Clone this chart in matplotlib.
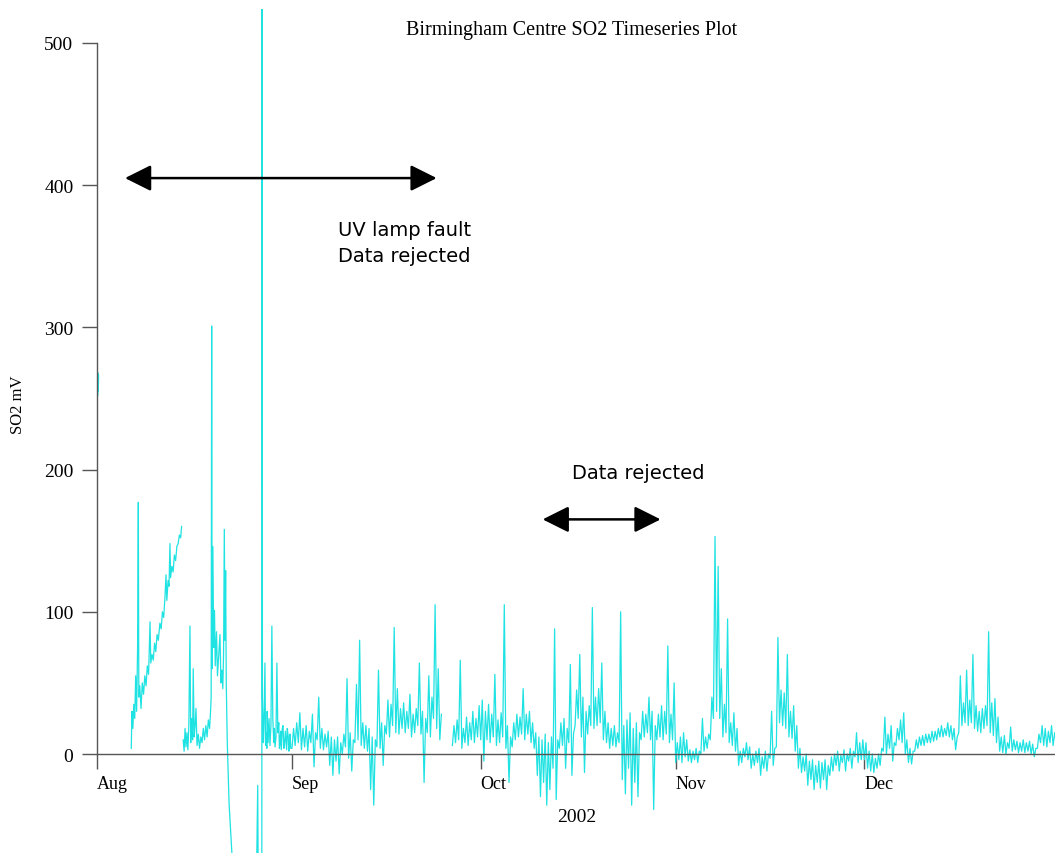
import numpy as np
import pandas as pd
import matplotlib
matplotlib.use("Agg")
import matplotlib.pyplot as plt
import matplotlib.dates as mdates

START = pd.Timestamp("2002-08-01")

# August: irregular (lamp fault, gaps), so day offsets are kept with the values
aug_days = [0.0, 0.05, 0.1, 0.15, 0.2, 0.25, 0.3,
            5.45, 5.55, 5.7, 5.85, 6.0, 6.15, 6.3, 6.45, 6.57, 6.65, 6.8, 7.0, 7.2, 7.4,
            7.6, 7.8, 8.0, 8.2, 8.43, 8.55, 8.75, 8.95, 9.15, 9.35, 9.55, 9.75, 10.0,
            10.2, 10.4, 10.6, 10.8, 10.97, 11.1, 11.3, 11.45, 11.6, 11.7, 11.9, 12.1,
            12.3, 12.5, 12.7, 12.9, 13.1, 13.3, 13.45, 13.55,
            13.7, 13.85, 14.0, 14.15, 14.3, 14.45, 14.6, 14.78, 14.9, 15.05, 15.2, 15.3,
            15.45, 15.6, 15.74, 15.9, 16.1, 16.3, 16.5, 16.7, 16.9, 17.1, 17.3, 17.5,
            17.7, 17.9, 18.05, 18.15, 18.23, 18.3, 18.42, 18.55, 18.68, 18.8, 19.0,
            19.15, 19.35, 19.55, 19.7, 19.85, 20.0, 20.12, 20.24, 20.35, 20.45, 20.55,
            20.7, 21.0, 21.45, 21.9, 22.5, 23.5, 24.5, 25.2, 25.55, 25.7, 26.2, 26.25,
            26.3, 26.45, 26.55, 26.7, 26.8, 26.87, 27.0, 27.05, 27.2, 27.35, 27.5, 27.65,
            27.8, 27.95, 28.1, 28.2, 28.3, 28.45, 28.6, 28.75, 28.9, 29.0, 29.1, 29.2,
            29.3, 29.45, 29.57, 29.7, 29.8, 29.95, 30.05, 30.15, 30.25, 30.4, 30.5,
            30.6, 30.7, 30.8]
aug_so2 = [248, 270, 252, 268, 255, 266, np.nan,
           4, 30, 18, 35, 25, 55, 30, 74, 177, 40, 48, 32, 50, 42,
           55, 48, 62, 56, 93, 64, 70, 66, 78, 72, 84, 80, 92,
           88, 100, 96, 110, 126, 108, 122, 118, 148, 124, 132, 128,
           140, 136, 146, 148, 154, 152, 160, np.nan,
           10, 2, 18, 5, 15, 3, 20, 90, 8, 25, 10, 60,
           12, 20, 32, 6, 14, 4, 12, 8, 18, 10, 20, 12,
           24, 18, 30, 40, 301, 60, 146, 75, 101, 62, 86,
           55, 70, 84, 50, 59, 46, 70, 158, 80, 129, 50,
           10, -35, -70, -120, -150, -160, -150, -140, -22, -150, -150, 700,
           40, 8, 22, 64, 6, 15, 4, 30, 8, 25, 6, 20,
           90, 25, 8, 18, 5, 12, 64, 15, 22, 4, 8, 16,
           3, 18, 20, 4, 6, 16, 10, 3, 18, 12, 2,
           6, 14, 4]

# Sep-Dec: band low / high read at half-day steps from the first of each month
sep_lo = [4, 6, 8, 3, 5, 2, 8, -9, 10, 4,
          3, 5, -8, -15, -5, -14, 0, 5, -3, -12,
          8, 10, 6, 4, 2, -25, -36, 5, 4, -8,
          14, 12, 20, 15, 14, 18, 15, 18, 12, 15,
          20, 14, -20, 15, 12, 25, 18, 10, np.nan, np.nan,
          np.nan, 6, 8, 10, 4, 8, 6, 10, 8, 12]
sep_hi = [18, 22, 29, 18, 20, 16, 28, 15, 40, 18,
          14, 16, 12, 10, 12, 8, 14, 53, 15, 10,
          49, 80, 22, 20, 18, 12, 10, 59, 22, 20,
          38, 35, 89, 46, 32, 36, 30, 42, 28, 32,
          64, 30, 25, 55, 40, 105, 60, 28, np.nan, np.nan,
          np.nan, 20, 24, 66, 18, 26, 22, 30, 25, 34]
oct_lo = [10, -5, 10, 8, 12, 6, 8, 12, 4, -20,
          5, 10, 12, 14, 10, 14, 8, 4, -15, -30,
          -20, -36, -25, -10, -32, 4, 6, -10, 8, -15,
          20, 25, 12, -13, 14, 20, 18, 20, 22, 10,
          8, 4, 6, 5, 8, -18, -28, -10, -36, -20,
          -30, 10, 12, 15, 10, -39, 10, 12, 10, 14,
          8, 10]
oct_hi = [38, 30, 35, 28, 56, 24, 29, 105, 20, 12,
          22, 28, 26, 46, 28, 30, 22, 15, 12, 10,
          14, 8, 12, 88, 10, 22, 25, 18, 63, 14,
          45, 70, 40, 30, 34, 103, 40, 46, 64, 30,
          22, 18, 20, 15, 100, 20, 24, 29, 18, 22,
          15, 30, 28, 40, 30, 20, 28, 34, 30, 76,
          28, 50]
nov_lo = [-6, -4, -6, -2, -5, -6, -4, -6, 0, 2,
          4, 10, 25, 30, 25, 12, 15, 8, 6, 2,
          -8, -6, -2, -4, -10, -8, -6, -15, -10, -12,
          -3, -8, 5, 22, 20, 18, 12, 11, 2, -10,
          -13, -12, -22, -18, -25, -20, -24, -18, -25, -15,
          -12, -8, -12, -6, -12, -5, -10, -2, -6, -4]
nov_hi = [8, 12, 15, 10, 3, 2, 4, 2, 25, 12,
          14, 40, 153, 132, 60, 35, 95, 22, 29, 18,
          2, 4, 8, 5, 0, 2, 4, -2, 2, 0,
          30, 4, 82, 45, 43, 70, 30, 34, 20, 4,
          -2, 0, -5, -4, -8, -5, -6, -4, -8, -2,
          0, 2, -1, 3, 0, 4, 2, 15, 8, 10]
dec_lo = [-4, -10, -12, -13, -10, -8, 2, 0, 4, -5,
          6, 10, 8, 0, -6, -7, 2, 4, 6, 6,
          8, 8, 9, 10, 12, 12, 13, 12, 10, 3,
          15, 20, 22, 20, 22, 18, 16, 15, 18, 20,
          15, 13, 8, 2, 1, 0, 4, 2, 3, 1,
          2, 1, 2, 0, -2, 4, 8, 6, 5, 8,
          6, 8]
dec_hi = [8, 2, 0, -3, 0, 4, 26, 14, 20, 8,
          18, 24, 29, 10, 4, 2, 10, 12, 13, 14,
          14, 16, 16, 18, 20, 18, 22, 20, 18, 12,
          55, 36, 59, 38, 70, 34, 30, 32, 34, 86,
          36, 39, 26, 12, 13, 8, 19, 10, 9, 8,
          10, 8, 9, 7, 4, 14, 20, 18, 16, 20,
          15, 18]
month_offsets = [31, 61, 92, 122]

days = list(aug_days)
so2 = list(aug_so2)
for first, lo, hi in zip(month_offsets, [sep_lo, oct_lo, nov_lo, dec_lo],
                         [sep_hi, oct_hi, nov_hi, dec_hi]):
    for i in range(len(lo)):
        t = first + 0.5 * i
        days += [t, t + 0.25]
        so2 += [lo[i], hi[i]]

times = START + pd.to_timedelta(np.array(days), unit="D")

W, H = 1055, 854
fig = plt.figure(figsize=(W / 100, H / 100), dpi=100)
ax = fig.add_axes([97 / W, 0, 1 - 97 / W, (H - 10) / H])

ax.plot(times, so2, color="#1fe2e2", lw=0.9)

ax.set_xlim(START, START + pd.Timedelta(days=152.3))
ax.set_ylim(-69.6, 523.9)

serif = "Liberation Serif"
ax.spines["top"].set_visible(False)
ax.spines["right"].set_visible(False)
ax.spines["left"].set_bounds(0, 500)
ax.spines["bottom"].set_position(("data", 0))
for s in ("left", "bottom"):
    ax.spines[s].set_color("#555555")
    ax.spines[s].set_linewidth(1.0)

ax.set_yticks([0, 100, 200, 300, 400, 500])
ax.xaxis.set_major_locator(mdates.MonthLocator())
ax.xaxis.set_major_formatter(mdates.DateFormatter("%b"))
ax.tick_params(axis="both", direction="out", length=11, width=1.0, color="#555555")
ax.tick_params(axis="y", pad=6)
ax.tick_params(axis="x", pad=4)
for lab in ax.get_yticklabels():
    lab.set_fontfamily(serif)
    lab.set_fontsize(14)
for lab in ax.get_xticklabels():
    lab.set_fontfamily(serif)
    lab.set_fontsize(13)
    lab.set_horizontalalignment("left")

fig.text(572 / W, 1 - 30 / H, "Birmingham Centre SO2 Timeseries Plot",
         fontfamily=serif, fontsize=14.5, ha="center", va="center")
fig.text(577 / W, 1 - 818 / H, "2002", fontfamily=serif, fontsize=14,
         ha="center", va="center")
fig.text(18 / W, 1 - 405 / H, "SO2 mV", fontfamily=serif, fontsize=12,
         rotation=90, ha="center", va="center")

fig.text(338 / W, 1 - 230 / H, "UV lamp fault", fontfamily="DejaVu Sans",
         fontsize=14, ha="left", va="center")
fig.text(338 / W, 1 - 256 / H, "Data rejected", fontfamily="DejaVu Sans",
         fontsize=14, ha="left", va="center")
fig.text(572 / W, 1 - 474 / H, "Data rejected", fontfamily="DejaVu Sans",
         fontsize=14, ha="left", va="center")

arrow = dict(arrowstyle="<|-|>,head_length=0.8,head_width=0.4", mutation_scale=20,
             lw=1.8, color="black", shrinkA=0, shrinkB=0)
for x0, x1, yv in [(4.45, 54.0, 405), (70.85, 89.6, 165)]:
    ax.annotate("", xy=(START + pd.Timedelta(days=x1), yv),
                xytext=(START + pd.Timedelta(days=x0), yv), arrowprops=arrow)

fig.savefig("out.png", dpi=100)
